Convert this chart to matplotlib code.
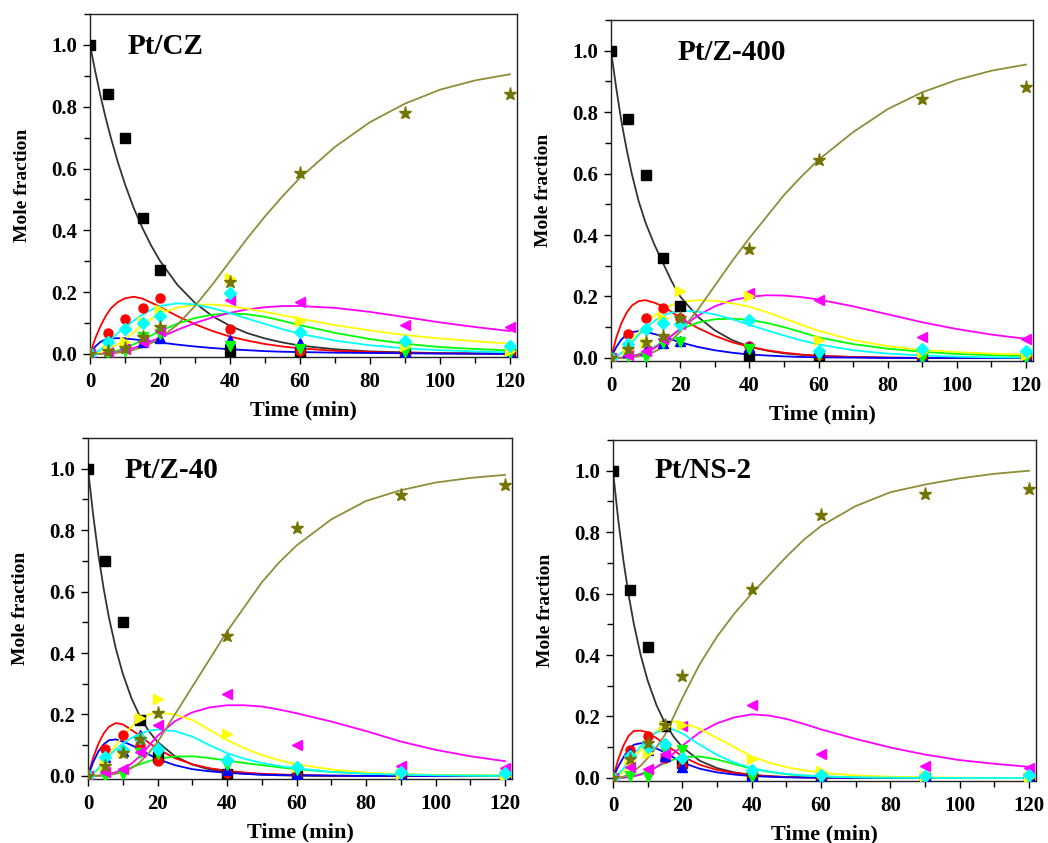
import numpy as np
import matplotlib.pyplot as plt
from matplotlib.ticker import MultipleLocator

plt.rcParams['font.family'] = ['Liberation Serif', 'DejaVu Serif']
plt.rcParams['font.weight'] = 'bold'

# sampling times of the measurements and of the fitted curves (min)
t_pts = [0, 5, 10, 15, 20, 40, 60, 90, 120]
t_fit = [0, 1.5, 3, 4.5, 6, 8, 10, 12.5, 15, 17.5, 20, 25, 30, 35, 40, 45, 50, 55, 60,
         70, 80, 90, 100, 110, 120]

# ---------------- Pt/CZ ----------------
cz_black = [1.0, 0.84, 0.70, 0.44, 0.27, 0.01, 0.0, 0.0, 0.0]
cz_red = [0, 0.067, 0.113, 0.148, 0.18, 0.08, 0.01, 0.0, 0.0]
cz_blue = [0, 0.03, 0.04, 0.04, 0.05, 0.045, 0.035, 0.005, 0.0]
cz_green = [0, 0.003, 0.01, 0.056, 0.066, 0.025, 0.017, 0.005, 0.003]
cz_magenta = [0, 0.005, 0.015, 0.039, 0.075, 0.173, 0.167, 0.095, 0.086]
cz_yellow = [0, 0.026, 0.04, 0.102, 0.143, 0.245, 0.107, 0.027, 0.01]
cz_cyan = [0, 0.04, 0.08, 0.1, 0.122, 0.197, 0.072, 0.043, 0.027]
cz_olive = [0, 0.01, 0.02, 0.056, 0.086, 0.233, 0.585, 0.78, 0.84]

cz_black_fit = [1.0, 0.914, 0.835, 0.763, 0.698, 0.619, 0.549, 0.472, 0.407, 0.35, 0.301, 0.223, 0.165,
                0.122, 0.091, 0.067, 0.05, 0.037, 0.027, 0.015, 0.008, 0.005, 0.0025, 0.0014, 0.0007]
cz_red_fit = [0, 0.05, 0.09, 0.123, 0.148, 0.168, 0.18, 0.185, 0.179, 0.166, 0.152, 0.122, 0.096,
              0.074, 0.056, 0.043, 0.032, 0.024, 0.018, 0.01, 0.006, 0.003, 0.002, 0.001, 0.001]
cz_blue_fit = [0, 0.024, 0.039, 0.047, 0.05, 0.051, 0.05, 0.047, 0.044, 0.04, 0.037, 0.03, 0.024,
               0.019, 0.015, 0.012, 0.009, 0.007, 0.006, 0.004, 0.003, 0.002, 0.001, 0.001, 0.0]
cz_green_fit = [0, 0, 0.001, 0.003, 0.006, 0.011, 0.019, 0.031, 0.045, 0.06, 0.074, 0.098, 0.116,
                0.127, 0.131, 0.128, 0.12, 0.107, 0.093, 0.068, 0.048, 0.033, 0.022, 0.016, 0.011]
cz_magenta_fit = [0, 0, 0.0005, 0.001, 0.003, 0.006, 0.011, 0.019, 0.029, 0.041, 0.053, 0.078, 0.1,
                  0.118, 0.133, 0.144, 0.151, 0.155, 0.155, 0.149, 0.136, 0.119, 0.102, 0.087, 0.074]
cz_yellow_fit = [0, 0.001, 0.004, 0.01, 0.019, 0.032, 0.048, 0.07, 0.092, 0.113, 0.13, 0.15, 0.159,
                 0.16, 0.155, 0.146, 0.136, 0.125, 0.114, 0.093, 0.076, 0.061, 0.05, 0.041, 0.033]
cz_cyan_fit = [0, 0.004, 0.014, 0.03, 0.047, 0.068, 0.087, 0.108, 0.127, 0.143, 0.155, 0.164, 0.16,
               0.148, 0.132, 0.114, 0.097, 0.08, 0.065, 0.043, 0.028, 0.018, 0.012, 0.008, 0.005]
cz_olive_fit = [0, 0, 0, 0.001, 0.002, 0.004, 0.007, 0.013, 0.022, 0.035, 0.05, 0.095, 0.155,
                0.225, 0.3, 0.375, 0.445, 0.51, 0.57, 0.67, 0.75, 0.81, 0.855, 0.885, 0.905]

# ---------------- Pt/Z-400 ----------------
z400_black = [1.0, 0.777, 0.594, 0.325, 0.169, 0.007, 0.0, 0.0, 0.0]
z400_red = [0, 0.077, 0.131, 0.163, 0.13, 0.04, 0.01, 0.0, 0.0]
z400_blue = [0, 0.02, 0.025, 0.047, 0.055, 0.035, 0.02, 0.0, 0.0]
z400_green = [0, 0.005, 0.003, 0.05, 0.053, 0.03, 0.01, 0.0, 0.0]
z400_magenta = [0, 0.01, 0.024, 0.06, 0.11, 0.212, 0.188, 0.069, 0.061]
z400_yellow = [0, 0.03, 0.05, 0.131, 0.217, 0.2, 0.059, 0.018, 0.008]
z400_cyan = [0, 0.045, 0.094, 0.115, 0.11, 0.124, 0.022, 0.029, 0.024]
z400_olive = [0, 0.029, 0.053, 0.072, 0.131, 0.355, 0.645, 0.842, 0.881]

z400_black_fit = [1.0, 0.88, 0.77, 0.68, 0.6, 0.51, 0.44, 0.37, 0.31, 0.25, 0.2, 0.135, 0.09,
                  0.058, 0.037, 0.024, 0.015, 0.01, 0.006, 0.003, 0.001, 0, 0, 0, 0]
z400_red_fit = [0, 0.065, 0.113, 0.147, 0.17, 0.185, 0.188, 0.18, 0.168, 0.15, 0.13, 0.098, 0.072,
                0.051, 0.036, 0.025, 0.017, 0.011, 0.007, 0.003, 0.001, 0, 0, 0, 0]
z400_blue_fit = [0, 0.035, 0.06, 0.076, 0.084, 0.087, 0.085, 0.078, 0.07, 0.06, 0.051, 0.036, 0.025,
                 0.017, 0.011, 0.008, 0.005, 0.003, 0.002, 0.001, 0, 0, 0, 0, 0]
z400_green_fit = [0, 0, 0.001, 0.003, 0.006, 0.012, 0.02, 0.035, 0.053, 0.073, 0.092, 0.115, 0.126,
                  0.128, 0.124, 0.114, 0.1, 0.084, 0.067, 0.045, 0.03, 0.02, 0.013, 0.009, 0.006]
z400_magenta_fit = [0, 0, 0.001, 0.002, 0.005, 0.01, 0.018, 0.032, 0.05, 0.072, 0.095, 0.137, 0.168,
                    0.188, 0.199, 0.204, 0.203, 0.198, 0.19, 0.168, 0.142, 0.116, 0.094, 0.076, 0.062]
z400_yellow_fit = [0, 0.005, 0.016, 0.033, 0.055, 0.083, 0.11, 0.137, 0.158, 0.172, 0.182, 0.188, 0.186,
                   0.178, 0.167, 0.149, 0.129, 0.108, 0.088, 0.058, 0.038, 0.026, 0.019, 0.014, 0.011]
z400_cyan_fit = [0, 0.005, 0.016, 0.032, 0.05, 0.075, 0.099, 0.12, 0.137, 0.148, 0.153, 0.151, 0.142,
                 0.126, 0.108, 0.09, 0.073, 0.057, 0.044, 0.025, 0.014, 0.008, 0.004, 0.002, 0.001]
z400_olive_fit = [0, 0, 0, 0.001, 0.002, 0.005, 0.01, 0.02, 0.035, 0.058, 0.085, 0.155, 0.235,
                  0.315, 0.39, 0.46, 0.53, 0.59, 0.645, 0.735, 0.81, 0.865, 0.905, 0.935, 0.955]

# ---------------- Pt/Z-40 ----------------
z40_black = [1.0, 0.70, 0.50, 0.181, 0.06, 0.005, 0.0, 0.0, 0.0]
z40_red = [0, 0.089, 0.132, 0.1, 0.048, 0.01, 0.0, 0.0, 0.0]
z40_blue = [0, 0.06, 0.08, 0.132, 0.09, 0.018, 0.005, 0.0, 0.0]
z40_green = [0, 0.0, 0.005, 0.075, 0.07, 0.035, 0.02, 0.005, 0.0]
z40_magenta = [0, 0.013, 0.022, 0.078, 0.165, 0.268, 0.1, 0.032, 0.025]
z40_yellow = [0, 0.04, 0.078, 0.187, 0.249, 0.138, 0.03, 0.005, 0.0]
z40_cyan = [0, 0.062, 0.084, 0.122, 0.089, 0.053, 0.03, 0.013, 0.008]
z40_olive = [0, 0.032, 0.075, 0.12, 0.206, 0.456, 0.807, 0.915, 0.947]

z40_black_fit = [1.0, 0.848, 0.719, 0.61, 0.517, 0.415, 0.333, 0.253, 0.192, 0.146, 0.111, 0.064, 0.037,
                 0.021, 0.012, 0.007, 0.004, 0.002, 0.001, 0, 0, 0, 0, 0, 0]
z40_red_fit = [0, 0.06, 0.105, 0.138, 0.16, 0.172, 0.168, 0.15, 0.13, 0.108, 0.088, 0.058, 0.038,
               0.025, 0.017, 0.011, 0.007, 0.005, 0.003, 0.001, 0, 0, 0, 0, 0]
z40_blue_fit = [0, 0.045, 0.08, 0.103, 0.116, 0.119, 0.112, 0.1, 0.087, 0.07, 0.055, 0.035, 0.022,
                0.015, 0.01, 0.007, 0.004, 0.003, 0.002, 0.001, 0, 0, 0, 0, 0]
z40_green_fit = [0, 0, 0.001, 0.003, 0.006, 0.011, 0.018, 0.028, 0.038, 0.048, 0.056, 0.063, 0.064,
                 0.058, 0.05, 0.042, 0.035, 0.028, 0.022, 0.013, 0.008, 0.005, 0.003, 0.002, 0.001]
z40_magenta_fit = [0, 0, 0.001, 0.003, 0.006, 0.012, 0.022, 0.04, 0.065, 0.098, 0.13, 0.178, 0.207,
                   0.223, 0.23, 0.23, 0.226, 0.216, 0.204, 0.177, 0.146, 0.112, 0.085, 0.064, 0.048]
z40_yellow_fit = [0, 0.005, 0.02, 0.04, 0.065, 0.1, 0.13, 0.16, 0.185, 0.2, 0.206, 0.2, 0.182,
                  0.15, 0.117, 0.09, 0.068, 0.051, 0.038, 0.021, 0.011, 0.006, 0.003, 0.002, 0.001]
z40_cyan_fit = [0, 0.008, 0.025, 0.046, 0.065, 0.087, 0.105, 0.124, 0.138, 0.147, 0.151, 0.146, 0.128,
                0.1, 0.074, 0.056, 0.042, 0.032, 0.025, 0.013, 0.007, 0.004, 0.002, 0.001, 0]
z40_olive_fit = [0, 0, 0, 0.001, 0.003, 0.007, 0.013, 0.025, 0.045, 0.075, 0.11, 0.2, 0.29,
                 0.38, 0.47, 0.55, 0.63, 0.695, 0.75, 0.835, 0.895, 0.93, 0.955, 0.97, 0.98]

# ---------------- Pt/NS-2 ----------------
ns2_black = [1.0, 0.611, 0.425, 0.168, 0.05, 0.005, 0.0, 0.0, 0.0]
ns2_red = [0, 0.092, 0.135, 0.065, 0.038, 0.005, 0.0, 0.0, 0.0]
ns2_blue = [0, 0.08, 0.09, 0.07, 0.035, 0.005, 0.0, 0.0, 0.0]
ns2_green = [0, 0.005, 0.003, 0.09, 0.092, 0.003, 0.0, 0.0, 0.0]
ns2_magenta = [0, 0.036, 0.03, 0.078, 0.17, 0.238, 0.078, 0.04, 0.032]
ns2_yellow = [0, 0.058, 0.08, 0.17, 0.172, 0.06, 0.022, 0.005, 0.003]
ns2_cyan = [0, 0.07, 0.1, 0.11, 0.064, 0.025, 0.01, 0.005, 0.008]
ns2_olive = [0, 0.062, 0.114, 0.173, 0.332, 0.614, 0.855, 0.925, 0.94]

ns2_black_fit = [1.0, 0.841, 0.708, 0.596, 0.502, 0.399, 0.317, 0.238, 0.178, 0.134, 0.1, 0.056, 0.032,
                 0.018, 0.01, 0.006, 0.003, 0.002, 0.001, 0, 0, 0, 0, 0, 0]
ns2_red_fit = [0, 0.06, 0.105, 0.137, 0.153, 0.154, 0.148, 0.13, 0.11, 0.09, 0.07, 0.043, 0.026,
               0.016, 0.009, 0.005, 0.003, 0.002, 0.001, 0, 0, 0, 0, 0, 0]
ns2_blue_fit = [0, 0.037, 0.067, 0.092, 0.108, 0.113, 0.108, 0.096, 0.083, 0.066, 0.05, 0.03, 0.018,
                0.011, 0.006, 0.004, 0.002, 0.001, 0.001, 0, 0, 0, 0, 0, 0]
ns2_green_fit = [0, 0, 0.001, 0.003, 0.007, 0.013, 0.022, 0.035, 0.048, 0.06, 0.068, 0.07, 0.06,
                 0.045, 0.03, 0.02, 0.012, 0.008, 0.005, 0.002, 0.001, 0, 0, 0, 0]
ns2_magenta_fit = [0, 0, 0.001, 0.002, 0.005, 0.011, 0.02, 0.035, 0.055, 0.08, 0.105, 0.148, 0.178,
                   0.197, 0.207, 0.203, 0.192, 0.176, 0.158, 0.127, 0.099, 0.076, 0.058, 0.046, 0.036]
ns2_yellow_fit = [0, 0.006, 0.02, 0.04, 0.063, 0.093, 0.12, 0.152, 0.175, 0.183, 0.18, 0.16, 0.13,
                  0.1, 0.07, 0.05, 0.035, 0.025, 0.017, 0.008, 0.004, 0.002, 0.001, 0, 0]
ns2_cyan_fit = [0, 0.01, 0.03, 0.055, 0.078, 0.103, 0.128, 0.148, 0.162, 0.157, 0.145, 0.108, 0.075,
                0.05, 0.032, 0.021, 0.013, 0.008, 0.005, 0.002, 0.001, 0, 0, 0, 0]
ns2_olive_fit = [0, 0.001, 0.004, 0.012, 0.022, 0.04, 0.065, 0.1, 0.14, 0.2, 0.26, 0.37, 0.46,
                 0.535, 0.6, 0.66, 0.72, 0.775, 0.82, 0.885, 0.93, 0.955, 0.975, 0.99, 1.0]

# marker, marker colour, line colour for each species (drawing order)
styles = [
    ('s', 'black', '#333333'),
    ('o', 'red', 'red'),
    ('^', 'blue', 'blue'),
    ('v', '#00ff00', '#00ff00'),
    ('<', 'magenta', 'magenta'),
    ('>', 'yellow', 'yellow'),
    ('D', 'cyan', 'cyan'),
    ('*', '#747400', '#8f8c3a'),
]

panels = [
    ('Pt/CZ', [90, 14, 517, 357], (128, 47),
     [cz_black, cz_red, cz_blue, cz_green, cz_magenta, cz_yellow, cz_cyan, cz_olive],
     [cz_black_fit, cz_red_fit, cz_blue_fit, cz_green_fit, cz_magenta_fit, cz_yellow_fit, cz_cyan_fit, cz_olive_fit]),
    ('Pt/Z-400', [611, 20, 1033, 361], (678, 52),
     [z400_black, z400_red, z400_blue, z400_green, z400_magenta, z400_yellow, z400_cyan, z400_olive],
     [z400_black_fit, z400_red_fit, z400_blue_fit, z400_green_fit, z400_magenta_fit, z400_yellow_fit, z400_cyan_fit, z400_olive_fit]),
    ('Pt/Z-40', [88, 438, 512, 779], (125, 470),
     [z40_black, z40_red, z40_blue, z40_green, z40_magenta, z40_yellow, z40_cyan, z40_olive],
     [z40_black_fit, z40_red_fit, z40_blue_fit, z40_green_fit, z40_magenta_fit, z40_yellow_fit, z40_cyan_fit, z40_olive_fit]),
    ('Pt/NS-2', [613, 440, 1036, 781], (655, 470),
     [ns2_black, ns2_red, ns2_blue, ns2_green, ns2_magenta, ns2_yellow, ns2_cyan, ns2_olive],
     [ns2_black_fit, ns2_red_fit, ns2_blue_fit, ns2_green_fit, ns2_magenta_fit, ns2_yellow_fit, ns2_cyan_fit, ns2_olive_fit]),
]

W, H = 1048, 843
fig = plt.figure(figsize=(W / 100, H / 100), dpi=100)

for name, (x0, y0, x1, y1), (tx, ty), pts, fits in panels:
    ax = fig.add_axes([x0 / W, 1 - y1 / H, (x1 - x0) / W, (y1 - y0) / H])
    for (mk, mc, lc), fit in zip(styles, fits):
        ax.plot(t_fit, fit, '-', color=lc, lw=1.3, zorder=2, solid_joinstyle='round')
    for (mk, mc, lc), p in zip(styles, pts):
        ms = {'*': 9.5, 'D': 6}.get(mk, 6.5)
        ax.plot(t_pts, p, mk, color=mc, ms=ms, mec=mc, ls='none', zorder=3)

    ax.set_xlim(0, 122)
    ax.set_ylim(-0.01, 1.1)
    ax.set_xticks(np.arange(0, 121, 20))
    ax.set_yticks(np.arange(0, 1.01, 0.2))
    ax.set_yticklabels(['%.1f' % v for v in np.arange(0, 1.01, 0.2)])
    ax.xaxis.set_minor_locator(MultipleLocator(10))
    ax.yaxis.set_minor_locator(MultipleLocator(0.1))
    ax.tick_params(which='both', direction='out', top=False, right=False,
                   labelsize=15, width=1, pad=4)
    ax.tick_params(which='major', length=5)
    ax.tick_params(which='minor', length=4)
    ax.tick_params(axis='x', pad=6)
    for sp in ax.spines.values():
        sp.set_linewidth(1)
        sp.set_color('#222222')
    ax.set_xlabel('Time (min)', fontsize=16, fontweight='bold', labelpad=6)
    ax.set_ylabel('Mole fraction', fontsize=14, fontweight='bold', labelpad=15)
    fig.text(tx / W, 1 - ty / H, name, fontsize=21, fontweight='bold',
             ha='left', va='center')

fig.savefig('out.png', dpi=100)
